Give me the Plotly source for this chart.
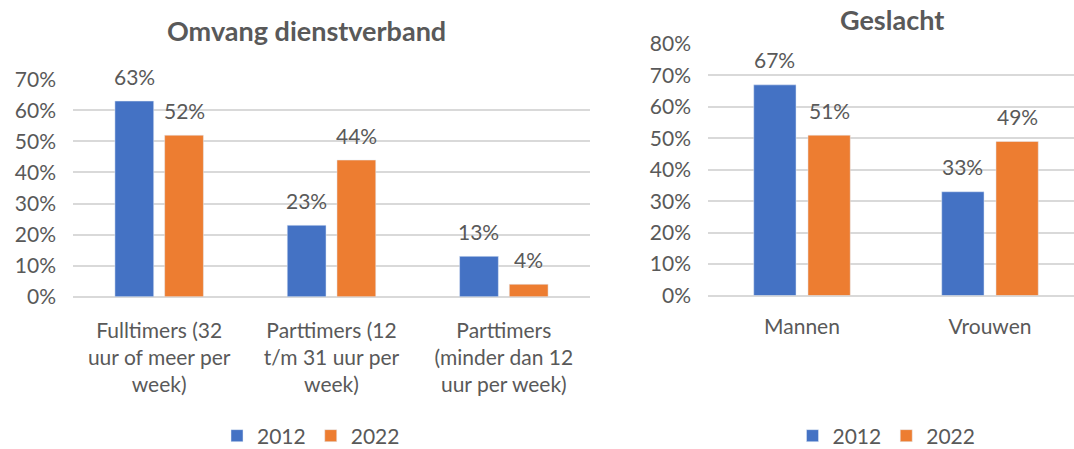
import plotly.graph_objects as go

# ---- data ----
years = ["2012", "2022"]
dienst_categories = [
    "Fulltimers (32<br>uur of meer per<br>week)",
    "Parttimers (12<br>t/m 31 uur per<br>week)",
    "Parttimers<br>(minder dan 12<br>uur per week)",
]
dienst_2012 = [0.63, 0.23, 0.13]
dienst_2022 = [0.52, 0.44, 0.04]

geslacht_categories = ["Mannen", "Vrouwen"]
geslacht_2012 = [0.67, 0.33]
geslacht_2022 = [0.51, 0.49]

left_ticks = [0, 0.1, 0.2, 0.3, 0.4, 0.5, 0.6, 0.7]
right_ticks = [0, 0.1, 0.2, 0.3, 0.4, 0.5, 0.6, 0.7, 0.8]

BLUE = "#4472C4"
ORANGE = "#ED7D31"
TEXT = "#595959"
GRID = "#D9D9D9"
FONT = "Lato"
BARGAP = 0.423
BARGROUPGAP = 0.22

fig = go.Figure()

fig.add_trace(go.Bar(x=dienst_categories, y=dienst_2012, name=years[0],
                     marker_color=BLUE, xaxis="x", yaxis="y", legend="legend"))
fig.add_trace(go.Bar(x=dienst_categories, y=dienst_2022, name=years[1],
                     marker_color=ORANGE, xaxis="x", yaxis="y", legend="legend"))
fig.add_trace(go.Bar(x=geslacht_categories, y=geslacht_2012, name=years[0],
                     marker_color=BLUE, xaxis="x2", yaxis="y2", legend="legend2"))
fig.add_trace(go.Bar(x=geslacht_categories, y=geslacht_2022, name=years[1],
                     marker_color=ORANGE, xaxis="x2", yaxis="y2", legend="legend2"))

# data labels
half = (1 - BARGAP) / 4
annotations = []
for xref, yref, series in [("x", "y", [dienst_2012, dienst_2022]),
                           ("x2", "y2", [geslacht_2012, geslacht_2022])]:
    for k, vals in enumerate(series):
        off = -half if k == 0 else half
        for i, v in enumerate(vals):
            annotations.append(dict(
                x=i + off, y=v, xref=xref, yref=yref,
                text=f"{round(v*100)}%", showarrow=False,
                yanchor="middle", yshift=25,
                font=dict(family=FONT, size=21, color=TEXT)))

# titles
annotations.append(dict(text="<b>Omvang dienstverband</b>", x=306/1074, y=1-30/449,
                        xref="paper", yref="paper", showarrow=False,
                        xanchor="center", yanchor="middle",
                        font=dict(family=FONT, size=27, color=TEXT)))
annotations.append(dict(text="<b>Geslacht</b>", x=892/1074, y=1-20/449,
                        xref="paper", yref="paper", showarrow=False,
                        xanchor="center", yanchor="middle",
                        font=dict(family=FONT, size=27, color=TEXT)))

axis_font = dict(family=FONT, size=21, color=TEXT)
common_x = dict(showgrid=False, showline=False, zeroline=False, ticks="",
                tickfont=axis_font, fixedrange=True, automargin=False)
common_y = dict(showgrid=True, gridcolor=GRID, gridwidth=1.5, zeroline=True,
                zerolinecolor=GRID, zerolinewidth=1.5, showline=False, ticks="",
                tickformat=".0%", tickfont=axis_font, ticklabelstandoff=16,
                automargin=False, fixedrange=True)
legend_common = dict(orientation="h", yanchor="middle", xanchor="left",
                     xref="container", yref="container", font=axis_font,
                     bgcolor="rgba(0,0,0,0)", itemclick=False)

fig.update_layout(
    width=1074, height=449,
    margin=dict(l=0, r=0, t=0, b=0, pad=0, autoexpand=False),
    paper_bgcolor="white", plot_bgcolor="white",
    barmode="group", bargap=BARGAP, bargroupgap=BARGROUPGAP,
    font=dict(family=FONT, color=TEXT),
    xaxis=dict(domain=[73/1074, 590/1074], anchor="y", ticklabelstandoff=19,
               **common_x),
    yaxis=dict(domain=[1-296.7/449, 1-79.3/449], anchor="x", range=[0, 0.7],
               tickvals=left_ticks, **common_y),
    xaxis2=dict(domain=[708/1074, 1.0], anchor="y2", ticklabelstandoff=16,
                range=[-0.5, -0.5 + (1074-708)/188], **common_x),
    yaxis2=dict(domain=[1-295.5/449, 1-44/449], anchor="x2", range=[0, 0.8],
                tickvals=right_ticks, **common_y),
    legend=dict(x=217/1074, y=1-436/449, **legend_common),
    legend2=dict(x=792.5/1074, y=1-436/449, **legend_common),
    annotations=annotations,
)

fig.write_html("out.html", config={"displayModeBar": False},
               post_script="document.body.style.margin='0';document.body.style.overflow='hidden';")
